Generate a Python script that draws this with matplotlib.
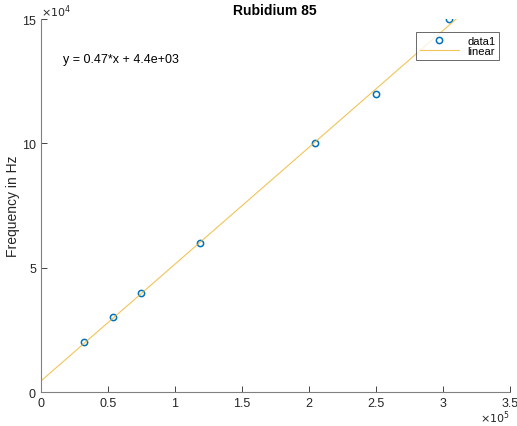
import numpy as np
import matplotlib
matplotlib.use('Agg')
import matplotlib.pyplot as plt

plt.rcParams['font.family'] = ['Liberation Sans', 'DejaVu Sans']

# data
x_data = [0.32e5, 0.54e5, 0.75e5, 1.19e5, 2.05e5, 2.50e5, 3.05e5]
y_data = [2.0e4, 3.0e4, 4.0e4, 6.0e4, 10.0e4, 12.0e4, 15.0e4]
slope = 0.47
intercept = 4.4e3
fit_x = [0, 3.1e5]

x_ticks = [0, 0.5e5, 1e5, 1.5e5, 2e5, 2.5e5, 3e5, 3.5e5]
x_labels = ['0', '0.5', '1', '1.5', '2', '2.5', '3', '3.5']
y_ticks = [0, 5e4, 10e4, 15e4]
y_labels = ['0', '5', '10', '15']

fig = plt.figure(figsize=(5.17, 4.27), dpi=100)
ax = fig.add_axes([0.079, 0.0796, 0.907, 0.873])

ax.plot(x_data, y_data, 'o', mfc='none', mec='#0072BD', mew=1.1, ms=4.5, label='data1')
fx = np.array(fit_x)
ax.plot(fx, slope * fx + intercept, color='#EDB120', alpha=0.75, lw=0.8, label='linear')

ax.set_xlim(0, 3.5e5)
ax.set_ylim(0, 15e4)
ax.set_xticks(x_ticks)
ax.set_xticklabels(x_labels)
ax.set_yticks(y_ticks)
ax.set_yticklabels(y_labels)
ax.tick_params(direction='in', length=4, labelsize=9, colors='#262626', width=0.6)
for s in ['top', 'right']:
    ax.spines[s].set_visible(False)
for s in ['left', 'bottom']:
    ax.spines[s].set_color('#808080')
    ax.spines[s].set_linewidth(0.8)

ax.text(1.0, -0.045, r'$\times10^5$', transform=ax.transAxes, ha='right', va='top', fontsize=8, color='#262626')
ax.text(0.0, 1.0, r'$\times10^4$', transform=ax.transAxes, ha='left', va='bottom', fontsize=8, color='#262626')

ax.set_ylabel('Frequency in Hz', fontsize=10, color='#262626')
ax.yaxis.set_label_coords(-0.045, 0.5)
ax.set_title('Rubidium 85', fontsize=10, fontweight='bold', color='black', pad=4)

ax.text(0.164e5, 13.4e4, 'y = 0.47*x + 4.4e+03', fontsize=9, va='center', color='black')

leg = ax.legend(loc='upper right', bbox_to_anchor=(0.977, 0.965), fontsize=8,
                frameon=True, fancybox=False, edgecolor='#262626', borderpad=0.3,
                handlelength=3.5, labelspacing=0.05, borderaxespad=0)
leg.get_frame().set_linewidth(0.6)

fig.savefig('out.png', dpi=100)
